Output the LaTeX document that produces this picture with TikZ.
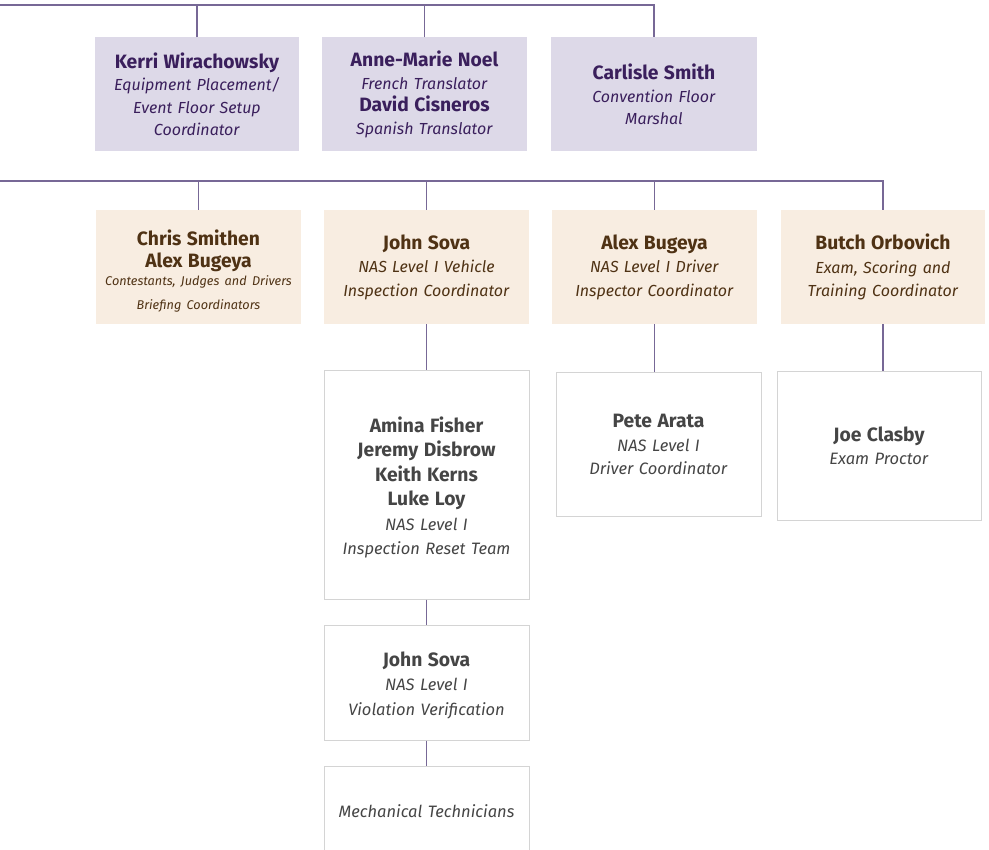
\documentclass[tikz,border=0pt]{standalone}
\usepackage{fontspec}
\setmainfont{Fira Sans}
\definecolor{lnc}{HTML}{776896}
\definecolor{pfill}{HTML}{DDD9E8}
\definecolor{ptext}{HTML}{3A1F5C}
\definecolor{bfill}{HTML}{F8EDE1}
\definecolor{btext}{HTML}{4F3214}
\definecolor{wtext}{HTML}{454545}
\definecolor{wline}{HTML}{D4D4D4}
\tikzset{
  conn/.style={draw=lnc, line width=1.1pt},
  base/.style={inner sep=0pt, align=center, text width=#1, minimum width=#1},
  pbox/.style={fill=pfill, text=ptext, font=\fontsize{16}{22.5}\selectfont},
  bbox/.style={fill=bfill, text=btext, font=\fontsize{16}{23.5}\selectfont},
  wbox/.style={fill=white, draw=wline, line width=1pt, text=wtext, font=\fontsize{16.5}{24.5}\selectfont},
}
\newcommand{\nm}[1]{{\fontsize{19.3}{23}\selectfont\bfseries #1}}
\newcommand{\rl}[1]{\textit{#1}}
\begin{document}
\begin{tikzpicture}[x=1pt,y=-1pt]
\useasboundingbox (0,0) rectangle (989,850);
% purple row
\node[pbox, base=204pt, minimum height=114pt] (kerri) at (197,94.5)
  {\nm{Kerri Wirachowsky}\\\rl{Equipment Placement/}\\\rl{Event Floor Setup}\\\rl{Coordinator}};
\node[pbox, base=205pt, minimum height=114pt] (anne) at (424.5,94.5)
  {\nm{Anne-Marie Noel}\\\rl{French Translator}\\\nm{David Cisneros}\\\rl{Spanish Translator}};
\node[pbox, base=206pt, minimum height=114pt] (carl) at (654,94.5)
  {\nm{Carlisle Smith}\\\rl{Convention Floor}\\\rl{Marshal}};
\coordinate (top) at (0,5);
\draw[conn] (top) -| (carl.north);
\draw[conn] (kerri.north) -- (kerri.north |- top);
\draw[conn] (anne.north) -- (anne.north |- top);
% beige row
\node[bbox, base=205pt, minimum height=114pt] (chris) at (198.5,267)
  {\rule{0pt}{0pt}\\\nm{Chris Smithen}\\[-1pt]\nm{Alex Bugeya}\\[-2pt]{\fontsize{12.7}{20}\selectfont\rl{Contestants, Judges and Drivers}\\\rl{Briefing Coordinators}}};
\node[bbox, base=205pt, minimum height=114pt] (john) at (426.5,267)
  {\nm{John Sova}\\\rl{NAS Level I Vehicle}\\\rl{Inspection Coordinator}};
\node[bbox, base=205pt, minimum height=114pt] (alex) at (654.5,267)
  {\nm{Alex Bugeya}\\\rl{NAS Level I Driver}\\\rl{Inspector Coordinator}};
\node[bbox, base=204pt, minimum height=114pt] (butch) at (883,267)
  {\nm{Butch Orbovich}\\\rl{Exam, Scoring and}\\\rl{Training Coordinator}};
\coordinate (mid) at (0,181);
\draw[conn] (mid) -| (butch.north);
\draw[conn] (chris.north) -- (chris.north |- mid);
\draw[conn] (john.north) -- (john.north |- mid);
\draw[conn] (alex.north) -- (alex.north |- mid);
% white boxes
\node[wbox, base=205pt, minimum height=228pt] (amina) at (426.5,485)
  {\rule{0pt}{0pt}\\[-3.5pt]\nm{Amina Fisher}\\\nm{Jeremy Disbrow}\\\nm{Keith Kerns}\\\nm{Luke Loy}\\\rl{NAS Level I}\\\rl{Inspection Reset Team}};
\node[wbox, base=205pt, minimum height=143pt, font=\fontsize{16.5}{23.5}\selectfont] (pete) at (658.5,444.5)
  {\nm{Pete Arata}\\\rl{NAS Level I}\\\rl{Driver Coordinator}};
\node[wbox, base=204pt, minimum height=148pt, font=\fontsize{16.5}{23.5}\selectfont] (joe) at (879,446)
  {\nm{Joe Clasby}\\\rl{Exam Proctor}};
\node[wbox, base=205pt, minimum height=115pt] (john2) at (426.5,682.5)
  {\rule{0pt}{0pt}\\[-4.5pt]\nm{John Sova}\\\rl{NAS Level I}\\\rl{Violation Verification}};
\node[wbox, base=205pt, minimum height=90pt] (mech) at (426.5,811)
  {\rl{Mechanical Technicians}};
\draw[conn] (john.south) -- (amina.north);
\draw[conn] (alex.south) -- (alex.south |- pete.north);
\draw[conn] (butch.south) -- (butch.south |- joe.north);
\draw[conn] (amina.south) -- (john2.north);
\draw[conn] (john2.south) -- (mech.north);
\end{tikzpicture}
\end{document}
